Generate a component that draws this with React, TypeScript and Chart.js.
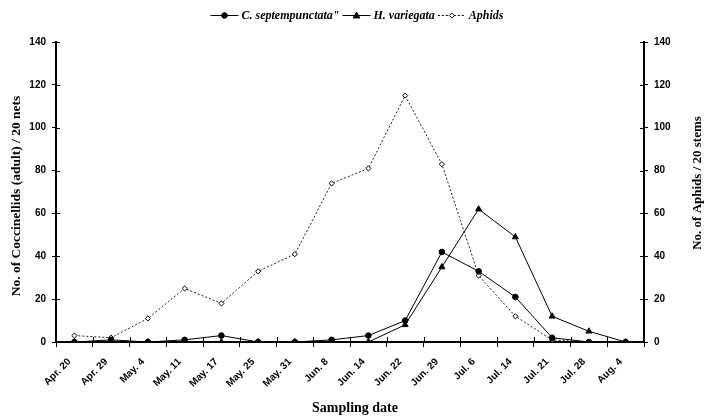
import React, { useEffect, useRef } from "react";
import { Chart, registerables } from "chart.js";

Chart.register(...registerables);

const categories = [
  "Apr. 20", "Apr. 29", "May. 4", "May. 11", "May. 17", "May. 25", "May. 31", "Jun. 8",
  "Jun. 14", "Jun. 22", "Jun. 29", "Jul. 6", "Jul. 14", "Jul. 21", "Jul. 28", "Aug. 4",
];
const coccinellaValues = [0, 1, 0, 1, 3, 0, 0, 1, 3, 10, 42, 33, 21, 2, 0, 0];
const hippodamiaValues = [0, 0, 0, 0, 0, 0, 0, 0, 0, 8, 35, 62, 49, 12, 5, 0];
const aphidValues = [3, 2, 11, 25, 18, 33, 41, 74, 81, 115, 83, 31, 12, 1, 0, 0];
const yTickValues = [0, 20, 40, 60, 80, 100, 120, 140];
const seriesNames = ['C. septempunctata"', "H. variegata", "Aphids"];
const leftTitle = "No. of Coccinellids (adult) / 20 nets";
const rightTitle = "No. of Aphids / 20 stems";
const bottomTitle = "Sampling date";

const SANS = "'Liberation Sans', Arial, sans-serif";
const SERIF = "'Liberation Serif', 'Times New Roman', serif";

function drawMarker(ctx: CanvasRenderingContext2D, style: string, x: number, y: number, r: number, fill: string) {
  ctx.save();
  ctx.fillStyle = fill;
  ctx.strokeStyle = "#000";
  ctx.lineWidth = 1;
  ctx.setLineDash([]);
  ctx.beginPath();
  if (style === "circle") {
    ctx.arc(x, y, r, 0, Math.PI * 2);
  } else if (style === "triangle") {
    ctx.moveTo(x, y - r);
    ctx.lineTo(x + r * 0.95, y + r * 0.7);
    ctx.lineTo(x - r * 0.95, y + r * 0.7);
    ctx.closePath();
  } else {
    ctx.moveTo(x, y - r);
    ctx.lineTo(x + r, y);
    ctx.lineTo(x, y + r);
    ctx.lineTo(x - r, y);
    ctx.closePath();
  }
  ctx.fill();
  ctx.stroke();
  ctx.restore();
}

const decorPlugin = {
  id: "decor",
  beforeDraw(chart: any) {
    const ctx = chart.ctx;
    ctx.save();
    ctx.fillStyle = "#fff";
    ctx.fillRect(0, 0, chart.width, chart.height);
    ctx.restore();
  },
  afterDraw(chart: any) {
    const ctx: CanvasRenderingContext2D = chart.ctx;
    const area = chart.chartArea;
    const xs = chart.scales.x;
    const yl = chart.scales.y;
    const yr = chart.scales.y2;
    ctx.save();
    // inside tick halves
    ctx.strokeStyle = "#000";
    ctx.lineWidth = 1;
    yTickValues.forEach((v) => {
      const py = Math.round(yl.getPixelForValue(v)) + 0.5;
      ctx.beginPath();
      ctx.moveTo(area.left, py);
      ctx.lineTo(area.left + 4, py);
      ctx.stroke();
      const pr = Math.round(yr.getPixelForValue(v)) + 0.5;
      ctx.beginPath();
      ctx.moveTo(area.right - 4, pr);
      ctx.lineTo(area.right, pr);
      ctx.stroke();
    });
    for (let i = 0; i <= categories.length; i++) {
      const px = Math.round(xs.getPixelForValue(i - 0.5)) + 0.5;
      ctx.beginPath();
      ctx.moveTo(px, area.bottom - 5);
      ctx.lineTo(px, area.bottom);
      ctx.stroke();
    }

    // axis titles
    ctx.fillStyle = "#000";
    ctx.textAlign = "center";
    ctx.textBaseline = "middle";
    ctx.font = `bold 13.5px ${SERIF}`;
    ctx.save();
    ctx.translate(17, 196);
    ctx.rotate(-Math.PI / 2);
    ctx.fillText(leftTitle, 0, 0);
    ctx.restore();
    ctx.font = `bold 13px ${SERIF}`;
    ctx.save();
    ctx.translate(698, 183);
    ctx.rotate(-Math.PI / 2);
    ctx.fillText(rightTitle, 0, 0);
    ctx.restore();
    ctx.font = `bold 14px ${SERIF}`;
    ctx.fillText(bottomTitle, 355, 408);

    // legend
    ctx.font = `italic bold 12px ${SERIF}`;
    const lineLen = 28;
    const gapText = 3;
    const gapItem = 3;
    const widths = seriesNames.map((n) => lineLen + gapText + ctx.measureText(n).width);
    const total = widths.reduce((a, b) => a + b, 0) + gapItem * (widths.length - 1);
    let lx = 357 - total / 2;
    const ly = 15;
    chart.data.datasets.forEach((ds: any, i: number) => {
      ctx.save();
      ctx.strokeStyle = "#000";
      ctx.lineWidth = 1;
      ctx.setLineDash(ds.borderDash || []);
      ctx.beginPath();
      ctx.moveTo(lx, ly + 0.5);
      ctx.lineTo(lx + lineLen, ly + 0.5);
      ctx.stroke();
      ctx.restore();
      drawMarker(ctx, ds.pointStyle, lx + lineLen / 2, ly + 0.5, ds.pointRadius, ds.pointBackgroundColor);
      ctx.fillStyle = "#000";
      ctx.textAlign = "left";
      ctx.textBaseline = "middle";
      ctx.fillText(seriesNames[i], lx + lineLen + gapText, ly + 1);
      lx += widths[i] + gapItem;
    });
    ctx.restore();
  },
};

export default function App() {
  const canvasRef = useRef<HTMLCanvasElement | null>(null);

  useEffect(() => {
    const canvas = canvasRef.current;
    if (!canvas) return;
    const tickFont = { family: SANS, weight: "bold" as const, size: 10 };
    const chart = new Chart(canvas, {
      type: "line",
      data: {
        labels: categories,
        datasets: [
          {
            label: seriesNames[0],
            data: coccinellaValues,
            yAxisID: "y",
            borderColor: "#000",
            borderWidth: 1,
            pointStyle: "circle",
            pointRadius: 2.8,
            pointBackgroundColor: "#000",
            pointBorderColor: "#000",
            pointBorderWidth: 1,
            tension: 0,
          },
          {
            label: seriesNames[1],
            data: hippodamiaValues,
            yAxisID: "y",
            borderColor: "#000",
            borderWidth: 1,
            pointStyle: "triangle",
            pointRadius: 3.5,
            pointBackgroundColor: "#000",
            pointBorderColor: "#000",
            pointBorderWidth: 1,
            tension: 0,
          },
          {
            label: seriesNames[2],
            data: aphidValues,
            yAxisID: "y2",
            borderColor: "#222",
            borderWidth: 1,
            borderDash: [2, 2],
            pointStyle: "rectRot",
            pointRadius: 2.6,
            pointBackgroundColor: "#fff",
            pointBorderColor: "#000",
            pointBorderWidth: 1,
            tension: 0,
          },
        ],
      },
      options: {
        responsive: false,
        animation: false,
        devicePixelRatio: 1,
        layout: { padding: { top: 42, left: 0, right: 0, bottom: 0 } },
        plugins: {
          legend: { display: false },
          tooltip: { enabled: false },
          title: { display: false },
        },
        scales: {
          x: {
            type: "category",
            offset: true,
            grid: {
              offset: true,
              drawOnChartArea: false,
              drawTicks: true,
              tickLength: 5,
              color: "#000",
              lineWidth: 1,
            },
            border: { display: true, color: "#000", width: 2 },
            ticks: {
              autoSkip: false,
              maxRotation: 45,
              minRotation: 45,
              color: "#000",
              font: { family: SANS, weight: "bold", size: 10 },
              padding: 9,
              labelOffset: -5,
            },
            afterFit: (s: any) => {
              s.height = 76;
            },
          },
          y: {
            position: "left",
            min: 0,
            max: 140,
            ticks: { stepSize: 20, color: "#000", font: tickFont, padding: 6 },
            grid: { drawOnChartArea: false, tickLength: 4, color: "#000", lineWidth: 1 },
            border: { display: true, color: "#000", width: 2 },
            afterFit: (s: any) => {
              s.width = 56;
            },
          },
          y2: {
            position: "right",
            min: 0,
            max: 140,
            ticks: { stepSize: 20, color: "#000", font: tickFont, padding: 6 },
            grid: { drawOnChartArea: false, tickLength: 4, color: "#000", lineWidth: 1 },
            border: { display: true, color: "#000", width: 2 },
            afterFit: (s: any) => {
              s.width = 63;
            },
          },
        },
      },
      plugins: [decorPlugin],
    });
    return () => chart.destroy();
  }, []);

  return (
    <div style={{ position: "absolute", left: 0, top: 0, width: 707, height: 418, background: "#fff" }}>
      <canvas ref={canvasRef} width={707} height={418} style={{ display: "block" }} />
    </div>
  );
}
